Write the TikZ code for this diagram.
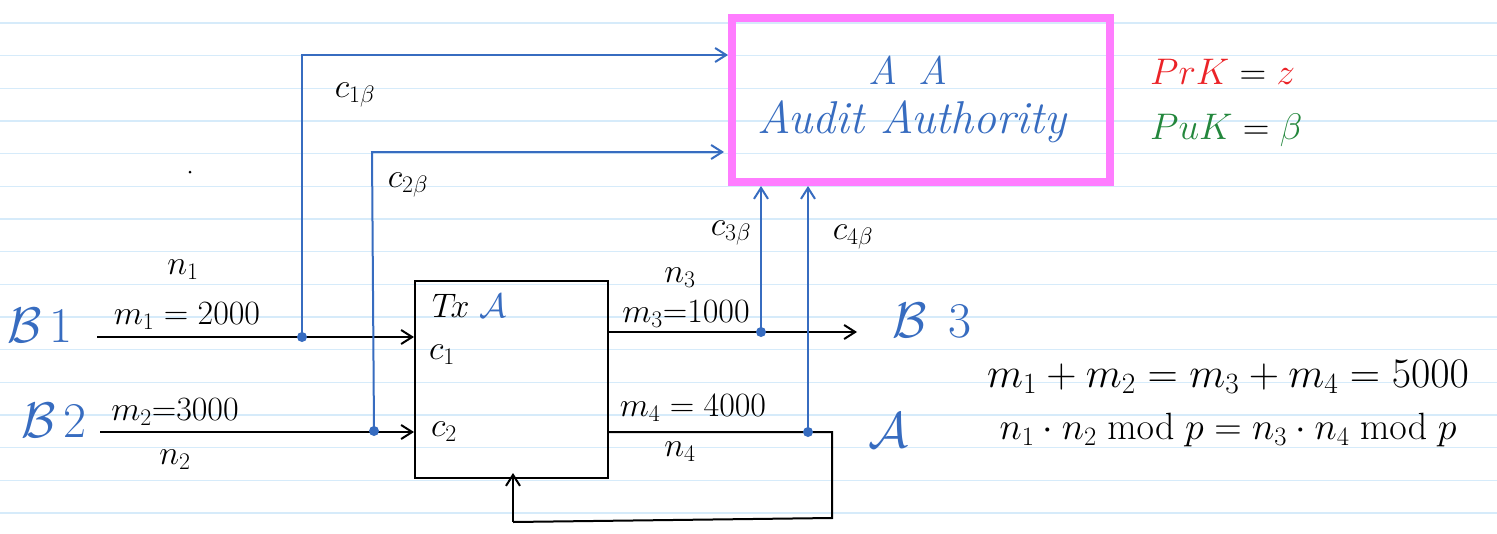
\RequirePackage{fix-cm}
\documentclass[tikz,border=0pt]{standalone}
\usetikzlibrary{arrows.meta}
\definecolor{paper}{RGB}{214,235,250}
\definecolor{pen}{RGB}{55,108,192}
\definecolor{aamag}{RGB}{255,125,255}
\definecolor{pred}{RGB}{235,35,40}
\definecolor{pgreen}{RGB}{35,135,60}
\tikzset{
  blk/.style={line width=2pt, black},
  bl/.style={line width=2pt, pen},
  arr/.style={-{Straight Barb[length=11pt,width=14pt,line width=2pt]}},
  lbl/.style={inner sep=0pt, font=\fontsize{34}{38}\selectfont},
  big/.style={inner sep=0pt, font=\fontsize{50}{56}\selectfont},
  aat/.style={inner sep=0pt, font=\fontsize{46}{52}\selectfont\itshape},
  eq/.style={inner sep=0pt, font=\fontsize{41}{46}\selectfont},
  dotb/.style={circle, fill=pen, inner sep=0pt, minimum size=10pt},
}
\begin{document}
\begin{tikzpicture}[x=1pt,y=-1pt]
\useasboundingbox (0,0) rectangle (1497,533);
\fill[white] (0,0) rectangle (1497,533);
\foreach \k in {0,...,15} \draw[paper, line width=1.5pt] (0,{23+32.67*\k}) -- (1497,{23+32.67*\k});
% boxes
\node[draw=aamag, line width=8pt, minimum width=378pt, minimum height=164pt, inner sep=0pt] (AA) at (921,100) {};
\node[draw=black, line width=2pt, minimum width=193pt, minimum height=197pt, inner sep=0pt] (tx) at (511.5,379.5) {};
% texts in AA
\node[aat, pen, font=\fontsize{40}{44}\selectfont\itshape] (aa1) at (908,70) {A\enspace A};
\node[aat, pen] (aa2) at (912,122) {Audit Authority};
% keys
\node[eq, anchor=west, font=\fontsize{37}{42}\selectfont] (prk) at (1150,72) {$\color{pred}PrK\color{black}=\color{pred}z$};
\node[eq, anchor=west, font=\fontsize{37}{42}\selectfont] (puk) at (1150,130) {$\color{pgreen}PuK\color{black}=\color{pgreen}\beta$};
% parties
\node[big, pen] (B1) at (40,325) {$\mathcal{B}\,1$};
\node[big, pen] (B2) at (54,420) {$\mathcal{B}\,2$};
\node[big, pen] (B3) at (932,320) {$\mathcal{B}\;\,3$};
\node[big, pen] (A) at (888,430) {$\mathcal{A}$};
% tx content
\node[lbl, anchor=west] (txl) at (432,306) {$T\!x$ \textcolor{pen}{$\mathcal{A}$}};
\node[lbl] (c1) at (442,355) {$c_1$};
\node[lbl] (c2) at (444,432) {$c_2$};
% coordinates
\coordinate (b1s) at (97,337);
\coordinate (b2s) at (100,432);
\coordinate (j1) at (302,337);
\coordinate (j2) at (374,431);
\coordinate (t1) at (302,55);
\coordinate (t2) at (372,152);
\coordinate (o3e) at (857,332);
\coordinate (j3) at (761,332);
\coordinate (j4) at (808,432);
\coordinate (l1) at (832,432);
\coordinate (l2) at (832,518);
\coordinate (l3) at (513,522);
% black flows
\draw[blk, arr] (b1s) -- (tx.west |- b1s);
\draw[blk, arr] (b2s) -- (tx.west |- b2s);
\draw[blk, arr] (tx.east |- o3e) -- (o3e);
\draw[blk] (tx.east |- l1) -- (l1) -- (l2) -- (l3);
\draw[blk, arr] (l3) -- ([yshift=6pt]l3 |- tx.south);
% blue flows
\draw[bl, arr] (j1) -- (t1) -- (AA.west |- t1);
\draw[bl, arr] (j2) -- (t2) -- ([xshift=-4pt]AA.west |- t2);
\draw[bl, arr] (j3) -- (j3 |- AA.south);
\draw[bl, arr] (j4) -- (j4 |- AA.south);
\node[dotb] at (j1) {};
\node[dotb] at (j2) {};
\node[dotb] at (j3) {};
\node[dotb] at (j4) {};
\fill (190,172) circle (1.5pt);
% labels on flows
\node[lbl] (n1) at (183,270) {$n_1$};
\node[lbl] (m1) at (187,316) {$m_1=2000$};
\node[lbl] (m2) at (175,412) {$m_2{=}3000$};
\node[lbl] (n2) at (175,460) {$n_2$};
\node[lbl] (n3) at (680,278) {$n_3$};
\node[lbl] (m3) at (686,314) {$m_3{=}1000$};
\node[lbl] (m4) at (693,408) {$m_4=4000$};
\node[lbl] (n4) at (680,452) {$n_4$};
\node[lbl] (c1b) at (355,95) {$c_{1\beta}$};
\node[lbl] (c2b) at (408,185) {$c_{2\beta}$};
\node[lbl] (c3b) at (731,233) {$c_{3\beta}$};
\node[lbl] (c4b) at (853,237) {$c_{4\beta}$};
% equations
\node[eq, font=\fontsize{42}{46}\selectfont] (e1) at (1228,377) {$m_1+m_2=m_3+m_4=5000$};
\node[eq, font=\fontsize{38}{42}\selectfont] (e2) at (1228,430) {$n_1\cdot n_2 \bmod p = n_3\cdot n_4 \bmod p$};
\end{tikzpicture}
\end{document}
